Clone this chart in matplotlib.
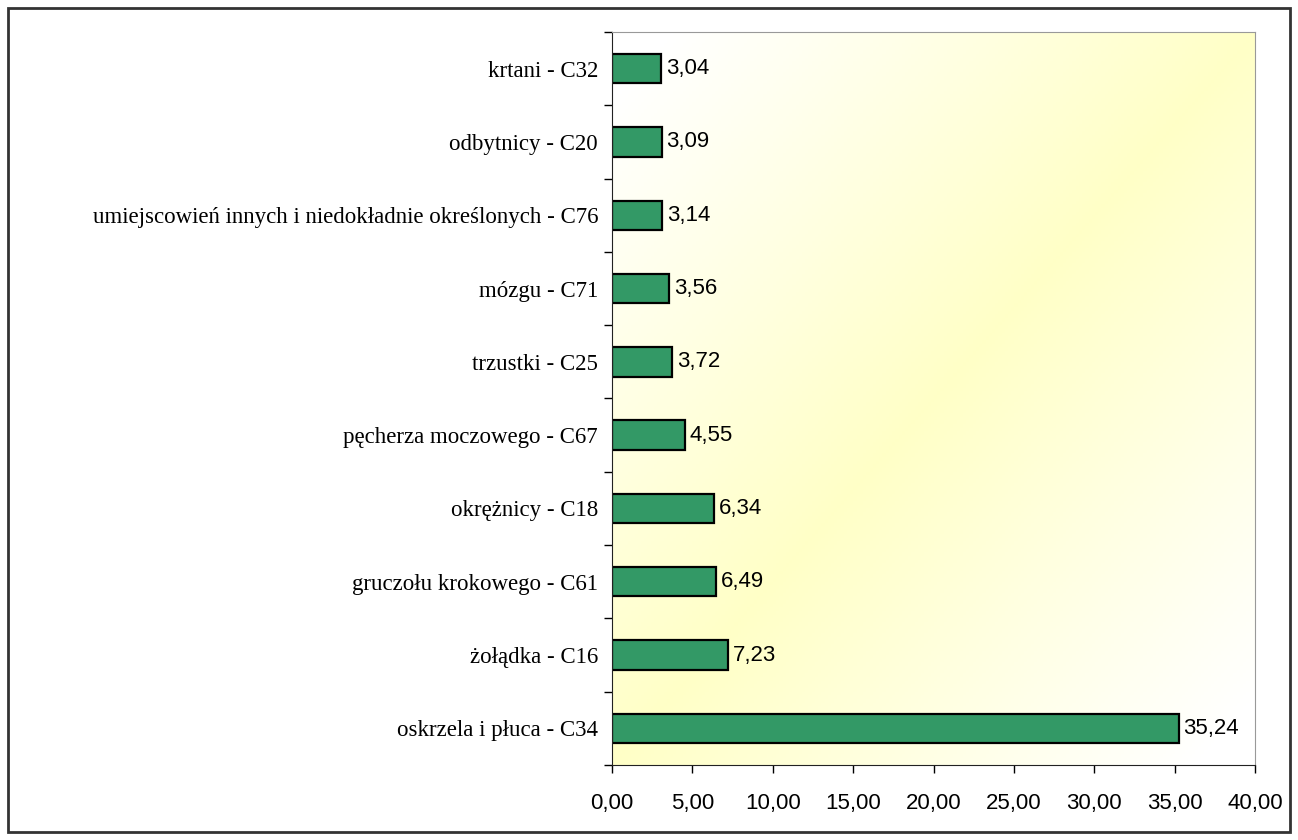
import matplotlib.pyplot as plt
import numpy as np
from matplotlib.patches import Rectangle

# Dane (od dołu do góry)
categories = ['oskrzela i płuca - C34', 'żołądka - C16', 'gruczołu krokowego - C61',
              'okrężnicy - C18', 'pęcherza moczowego - C67', 'trzustki - C25',
              'mózgu - C71', 'umiejscowień innych i niedokładnie określonych - C76',
              'odbytnicy - C20', 'krtani - C32']
values = [35.24, 7.23, 6.49, 6.34, 4.55, 3.72, 3.56, 3.14, 3.09, 3.04]
xticks = [0, 5, 10, 15, 20, 25, 30, 35, 40]

sans = ['Liberation Sans Narrow', 'Liberation Sans', 'DejaVu Sans']
serif = ['Liberation Serif', 'DejaVu Serif']

fig = plt.figure(figsize=(12.98, 8.40), dpi=100)
ax = fig.add_axes([0.4715, 0.0893, 0.4954, 0.8726])

# Tło z gradientem (biały w rogach, żółty po przekątnej)
n = 200
u, v = np.meshgrid(np.linspace(0, 1, n), np.linspace(0, 1, n))
t = np.clip(np.abs(u - v) * 1.1, 0, 1)
white = np.array([1.0, 1.0, 1.0])
yellow = np.array([1.0, 1.0, 0.78])
img = yellow[None, None, :] * (1 - t[..., None]) + white[None, None, :] * t[..., None]
ax.imshow(img, extent=[0, 40, -0.5, len(values) - 0.5], origin='lower',
          aspect='auto', zorder=0)

y = np.arange(len(values))
ax.barh(y, values, height=0.4, color='#339966', edgecolor='black', linewidth=1.6, zorder=2)

for yi, val in zip(y, values):
    ax.text(val + 0.3, yi, f'{val:.2f}'.replace('.', ','), va='center', ha='left',
            fontsize=16, family=sans, zorder=3)

ax.set_xlim(0, 40)
ax.set_ylim(-0.5, len(values) - 0.5)
ax.set_xticks(xticks)
ax.set_xticklabels([f'{x:.2f}'.replace('.', ',') for x in xticks], family=sans, fontsize=16)
ax.set_yticks(y)
ax.set_yticklabels(categories, family=serif, fontsize=16.5)
ax.set_yticks(np.arange(-0.5, len(values), 1), minor=True)
ax.tick_params(axis='y', which='major', length=0, pad=10)
ax.tick_params(axis='y', which='minor', length=6, width=1)
ax.tick_params(axis='x', length=6, width=1, pad=14)

for s in ['top', 'right']:
    ax.spines[s].set_color('#999999')
for s in ['left', 'bottom']:
    ax.spines[s].set_color('#222222')

# Ramka wokół całego wykresu
fig.patches.append(Rectangle((8 / 1298, 8 / 840), 1282 / 1298, 824 / 840,
                             transform=fig.transFigure, fill=False,
                             edgecolor='#333333', linewidth=2))

fig.savefig('out.png', dpi=100)
